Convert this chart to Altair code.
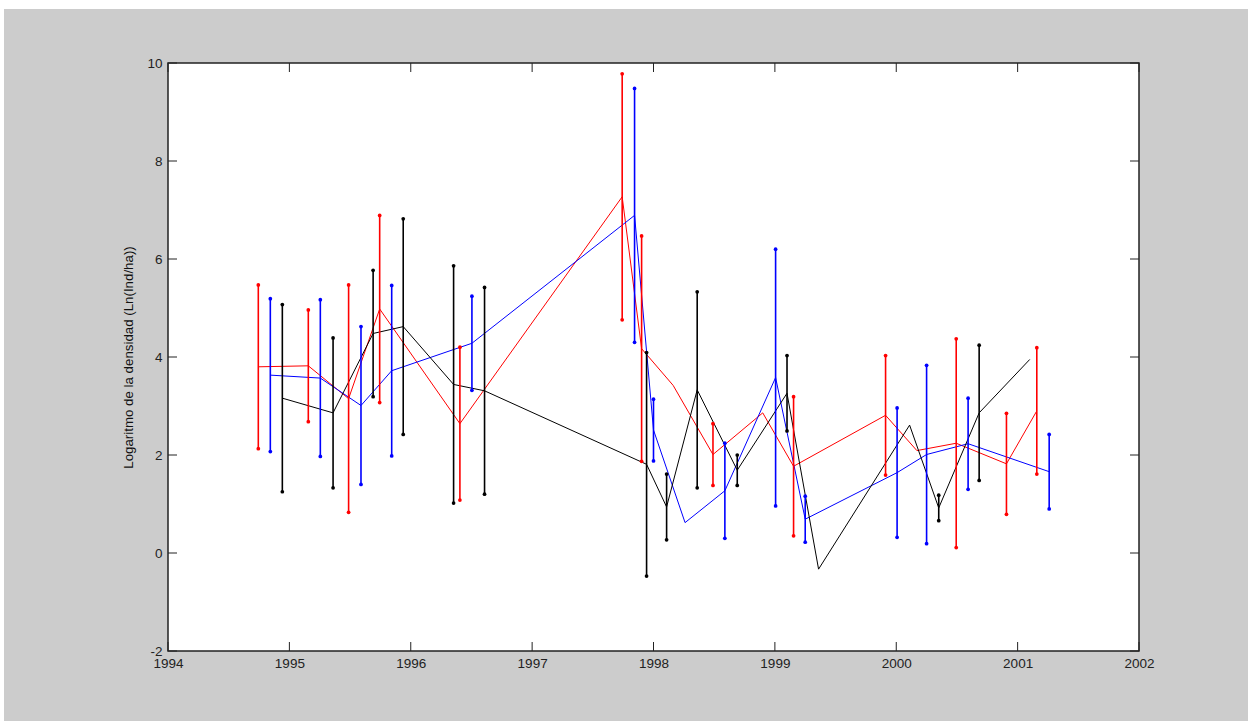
import altair as alt
import numpy as np
import pandas as pd

# Serie roja: año, media y semiamplitud del intervalo (None = sin barra)
rojo_anio = [1994.744, 1995.156, 1995.488, 1995.744, 1996.405, 1997.742, 1997.902, 1998.162,
             1998.490, 1998.900, 1999.154, 1999.912, 2000.170, 2000.494, 2000.908, 2001.158]
rojo_media = [3.80, 3.82, 3.15, 4.98, 2.64, 7.27, 4.17, 3.42,
              2.01, 2.86, 1.77, 2.81, 2.09, 2.24, 1.82, 2.90]
rojo_error = [1.67, 1.14, 2.32, 1.91, 1.56, 2.51, 2.30, None,
              0.63, None, 1.42, 1.22, None, 2.13, 1.03, 1.29]

# Serie azul
azul_anio = [1994.843, 1995.255, 1995.590, 1995.843, 1996.504, 1997.844, 1998.000, 1998.260,
             1998.588, 1999.006, 1999.250, 2000.007, 2000.250, 2000.592, 2001.260]
azul_media = [3.63, 3.57, 3.01, 3.72, 4.28, 6.89, 2.51, 0.62,
              1.27, 3.58, 0.69, 1.64, 2.01, 2.23, 1.66]
azul_error = [1.56, 1.60, 1.61, 1.74, 0.96, 2.59, 0.63, None,
              0.97, 2.62, 0.47, 1.32, 1.82, 0.93, 0.76]

# Serie negra
negro_anio = [1994.942, 1995.360, 1995.690, 1995.938, 1996.353, 1996.608, 1997.943, 1998.108,
              1998.360, 1998.690, 1999.100, 1999.360, 2000.110, 2000.350, 2000.683, 2001.100]
negro_media = [3.16, 2.86, 4.48, 4.62, 3.44, 3.31, 1.81, 0.94,
               3.33, 1.69, 3.26, -0.33, 2.61, 0.92, 2.86, 3.95]
negro_error = [1.91, 1.53, 1.29, 2.20, 2.42, 2.11, 2.28, 0.67,
               2.00, 0.31, 0.77, None, None, 0.26, 1.38, None]

# Marcas de los ejes
anios_eje = [1994, 1995, 1996, 1997, 1998, 1999, 2000, 2001, 2002]
valores_eje = [-2, 0, 2, 4, 6, 8, 10]

series = ["rojo", "azul", "negro"]
colores = ["#ff0000", "#0000ff", "#000000"]

ANCHO, ALTO = 971, 588
FUENTE = "Liberation Sans"


def tabla(nombre, anios, medias, errores):
    return pd.DataFrame({
        "serie": nombre,
        "anio": anios,
        "media": medias,
        "error": [np.nan if e is None else e for e in errores],
    })


datos = pd.concat([
    tabla("rojo", rojo_anio, rojo_media, rojo_error),
    tabla("azul", azul_anio, azul_media, azul_error),
    tabla("negro", negro_anio, negro_media, negro_error),
], ignore_index=True)

barras = datos.dropna(subset=["error"]).copy()
barras["bajo"] = barras["media"] - barras["error"]
barras["alto"] = barras["media"] + barras["error"]
extremos = pd.concat([
    barras.assign(valor=barras["bajo"]),
    barras.assign(valor=barras["alto"]),
], ignore_index=True)

escala_x = alt.Scale(domain=[1994, 2002], nice=False, zero=False)
escala_y = alt.Scale(domain=[-2, 10], nice=False, zero=False)
escala_color = alt.Scale(domain=series, range=colores)

eje_x = alt.Axis(values=anios_eje, format="d", ticks=False, domain=False, grid=False,
                 labelPadding=5, labelFlush=False, labelFont=FUENTE, labelFontSize=13.5,
                 labelColor="#222222", title=None)
eje_y = alt.Axis(values=valores_eje, ticks=False, domain=False, grid=False,
                 labelExpr="'' + datum.value",
                 labelPadding=6, labelFlush=False, labelFont=FUENTE, labelFontSize=13.5,
                 labelColor="#222222",
                 title="Logaritmo de la densidad (Ln(Ind/ha))",
                 titleX=-40, titleY=ALTO / 2, titleAngle=270, titleAlign="center",
                 titleBaseline="middle", titleFont=FUENTE, titleFontSize=13.3,
                 titleFontWeight="normal", titleColor="#111111")


def X(campo):
    return alt.X(campo, type="quantitative", scale=escala_x, axis=eje_x)


def Y(campo):
    return alt.Y(campo, type="quantitative", scale=escala_y, axis=eje_y)


color = alt.Color("serie:N", scale=escala_color, legend=None)

# Franjas blancas del borde de la figura
franjas = pd.DataFrame({"x0": [-168, -168], "x1": [ANCHO + 109, -164], "y0": [-63, -63], "y1": [-54, ALTO + 70]})
borde = alt.Chart(franjas).mark_rect(color="white", clip=False).encode(
    x=alt.X("x0:Q", scale=None), x2="x1:Q",
    y=alt.Y("y0:Q", scale=None), y2="y1:Q",
)

lineas = alt.Chart(datos).mark_line(strokeWidth=1, clip=False).encode(
    x=X("anio"), y=Y("media"), color=color, order="anio:Q", detail="serie:N",
)

barras_error = alt.Chart(barras).mark_rule(strokeWidth=1.6).encode(
    x=X("anio"), y=Y("bajo"), y2="alto:Q", color=color,
)

puntos = alt.Chart(extremos).mark_circle(size=14, opacity=1).encode(
    x=X("anio"), y=Y("valor"), color=color,
)

# Marcas interiores de los ejes (abajo, arriba, izquierda, derecha)
tx = pd.DataFrame({"t": anios_eje})
ty = pd.DataFrame({"t": valores_eje})
marca = dict(color="#222222", strokeWidth=1)
marcas_abajo = alt.Chart(tx).mark_rule(**marca).encode(x=X("t"), y=alt.value(ALTO), y2=alt.value(ALTO - 9))
marcas_arriba = alt.Chart(tx).mark_rule(**marca).encode(x=X("t"), y=alt.value(0), y2=alt.value(9))
marcas_izq = alt.Chart(ty).mark_rule(**marca).encode(y=Y("t"), x=alt.value(0), x2=alt.value(9))
marcas_der = alt.Chart(ty).mark_rule(**marca).encode(y=Y("t"), x=alt.value(ANCHO), x2=alt.value(ANCHO - 9))

chart = alt.layer(
    borde, lineas, barras_error, puntos,
    marcas_abajo, marcas_arriba, marcas_izq, marcas_der,
).properties(
    width=ANCHO, height=ALTO,
    autosize="none",
    padding={"left": 168, "top": 63, "right": 109, "bottom": 70},
    background="#cccccc",
).configure_view(
    fill="white", stroke="#222222", strokeWidth=1.5,
)

chart.save("out.html", embed_options={"renderer": "svg", "actions": False})
